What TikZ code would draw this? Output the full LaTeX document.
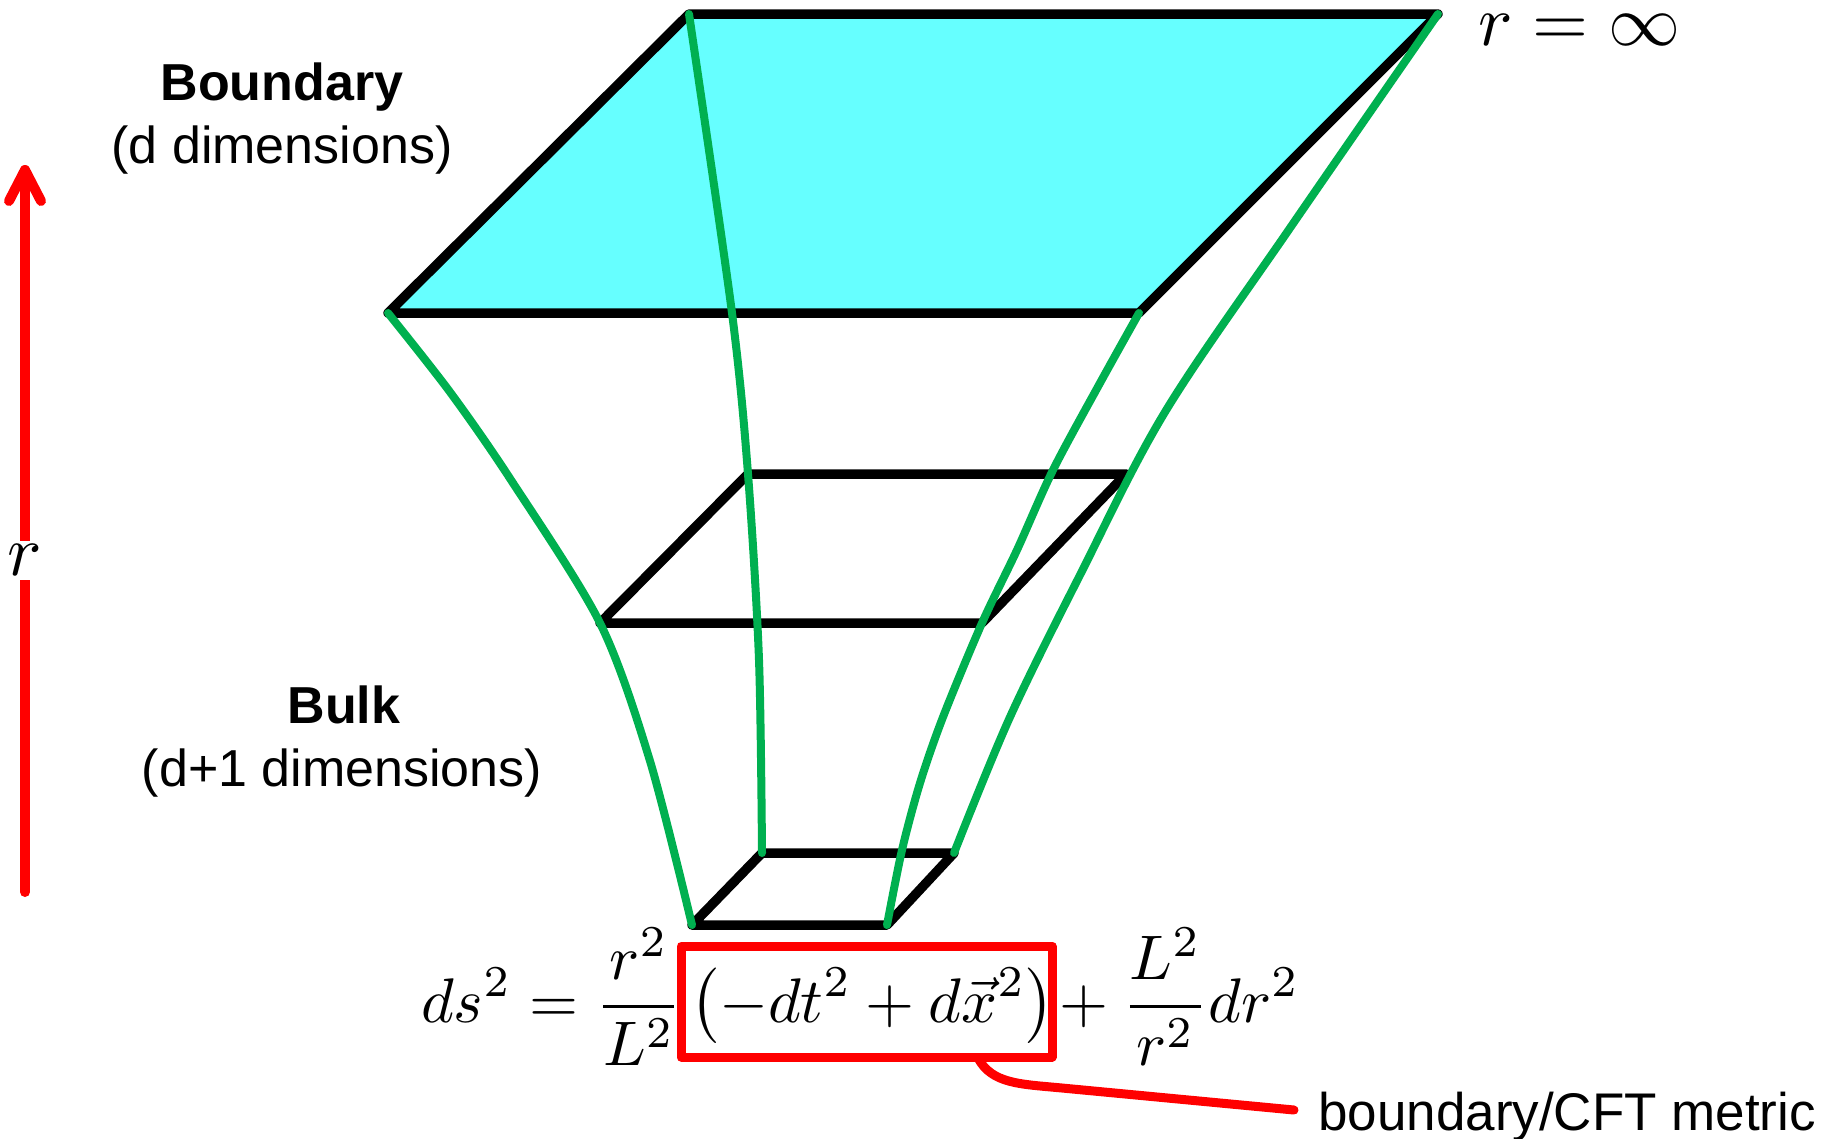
\documentclass[tikz,border=0pt]{standalone}
\usepackage{graphicx}
\usepackage[no-math]{fontspec}
\newfontfamily\arialf{Liberation Sans}
\usetikzlibrary{calc}
\definecolor{cyanfill}{RGB}{102,255,255}
\definecolor{pgreen}{RGB}{0,176,80}
\definecolor{pred}{RGB}{255,0,0}
\newcommand{\myLargeMath}[1]{\scalebox{7.2}{$#1$}}
\newcommand{\myEqMath}[1]{\scalebox{6.3}{$\displaystyle #1$}}
\begin{document}
\begin{tikzpicture}[x=1pt,y=-1pt, line join=round, line cap=round,
  frame/.style={draw=black, line width=9.5pt},
  geod/.style={draw=pgreen, line width=8pt},
  redline/.style={draw=pred, line width=9pt},
  redaxis/.style={draw=pred, line width=10pt},
  lab/.style={font=\arialf\fontsize{52}{60}\selectfont, inner sep=0, anchor=base},
  eqpart/.style={inner sep=0, anchor=base west}]
\useasboundingbox (0,0) rectangle (1836,1138);
% corners
\coordinate (A1) at (689,14);  \coordinate (B1) at (1438,14);
\coordinate (C1) at (1139,313); \coordinate (D1) at (388,313);
\coordinate (A2) at (748,474); \coordinate (B2) at (1126,474);
\coordinate (C2) at (982,623); \coordinate (D2) at (600,623);
\coordinate (A3) at (762,853); \coordinate (B3) at (954,853);
\coordinate (C3) at (887,925); \coordinate (D3) at (692,925);
% boundary sheet
\fill[cyanfill] (A1) -- (B1) -- (C1) -- (D1) -- cycle;
\draw[frame] (A1) -- (B1) -- (C1) -- (D1) -- cycle;
\draw[frame] (A2) -- (B2) -- (C2) -- (D2) -- cycle;
\draw[frame] (A3) -- (B3) -- (C3) -- (D3) -- cycle;
% green lines
\draw[geod] plot[smooth, tension=0.5] coordinates {(D1) (450,392) (511,480) (D2) (650,761) (D3)};
\draw[geod] plot[smooth, tension=0.5] coordinates {(A1) (732,313) (A2) (759,660) (A3)};
\draw[geod] plot[smooth, tension=0.5] coordinates {(C1) (1100,383) (1053,470) (1017,550) (C2) (943,717) (920,783) (902,850) (C3)};
\draw[geod] plot[smooth, tension=0.55] coordinates {(B1) (1290,228) (1165,412) (1080,575) (1010,717) (B3)};
% r axis
\coordinate (axbot) at (25,892);
\coordinate (axtop) at (25,170);
\draw[redaxis] (axbot) -- (axtop);
\draw[redaxis] ($(axtop)+(-16,31)$) -- (axtop) -- ($(axtop)+(16,31)$);
\node[fill=white, inner xsep=0pt, inner ysep=4pt] (raxis) at (25,560) {\myLargeMath{r}};
% labels
\node[inner sep=0, anchor=base west] (rinf) at (1478,45) {\myLargeMath{r=\infty}};
\node[lab] (bd) at (282,100) {\bfseries Boundary};
\node[lab] (bd2) at (282,163) {(d dimensions)};
\node[lab] (bk) at (344,723) {\bfseries Bulk};
\node[lab] (bk2) at (342,786) {(d+1 dimensions)};
% metric
\node[eqpart] (eqL) at (421,1022) {\myEqMath{ds^2=\frac{r^2}{L^2}}};
\node[eqpart] (eqM) at (690,1022) {\myEqMath{\bigl(-dt^2+d\vec{x}^2\bigr)}};
\node[eqpart] (eqR) at (1045,1022) {\myEqMath{{}+\frac{L^2}{r^2}dr^2}};
\coordinate (boxTL) at (681,946);
\coordinate (boxBR) at (1052,1057);
\draw[redline] (boxTL) rectangle (boxBR);
\node[font=\arialf\fontsize{53}{60}\selectfont, inner sep=0, anchor=base west] (cft) at (1318,1130) {boundary/CFT metric};
\coordinate (callstart) at (978,1058);
\coordinate (callend) at (1294,1110);
\draw[redline] (callstart) .. controls (992,1084) and (1020,1084) .. (1062,1088) -- (callend);
\end{tikzpicture}
\end{document}
